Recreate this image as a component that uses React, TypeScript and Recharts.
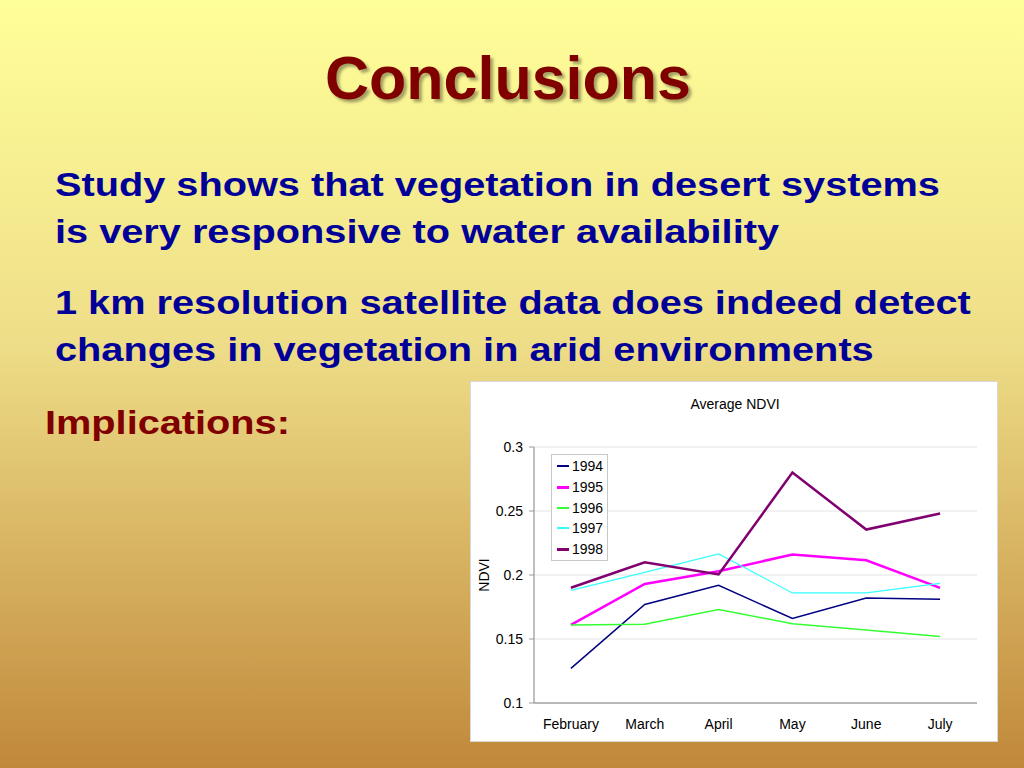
import React from 'react'
import { LineChart, Line, XAxis, YAxis, CartesianGrid, Legend } from 'recharts'

const months = ['February', 'March', 'April', 'May', 'June', 'July']
const ndvi1994 = [0.127, 0.177, 0.192, 0.166, 0.182, 0.181]
const ndvi1995 = [0.161, 0.193, 0.203, 0.216, 0.2115, 0.19]
const ndvi1996 = [0.161, 0.1615, 0.173, 0.162, 0.157, 0.152]
const ndvi1997 = [0.188, 0.202, 0.2165, 0.186, 0.186, 0.1935]
const ndvi1998 = [0.19, 0.21, 0.2005, 0.28, 0.2355, 0.248]
const yTicks = [0.1, 0.15, 0.2, 0.25, 0.3]
const edgeTicks = [0, 1, 2, 3, 4, 5, 6]

const series = [
  { key: 'y1994', name: '1994', values: ndvi1994, color: '#000080', width: 1.5 },
  { key: 'y1995', name: '1995', values: ndvi1995, color: '#ff00ff', width: 2.5 },
  { key: 'y1996', name: '1996', values: ndvi1996, color: '#33ff33', width: 1.5 },
  { key: 'y1997', name: '1997', values: ndvi1997, color: '#33ffff', width: 1.2 },
  { key: 'y1998', name: '1998', values: ndvi1998, color: '#800070', width: 2.5 },
]

const data = months.map((m, i) => {
  const row: Record<string, string | number> = { month: m }
  series.forEach(s => { row[s.key] = s.values[i] })
  return row
})

const font = '"Liberation Sans", Arial, sans-serif'

function LegendBox() {
  return (
    <div style={{ border: '1px solid #c8c8c8', background: '#fff', padding: '1px 4px 1px 5px', fontFamily: font, fontSize: 14, color: '#000' }}>
      {series.map(s => (
        <div key={s.key} style={{ display: 'flex', alignItems: 'center', height: 20.7 }}>
          <div style={{ width: 12, height: Math.max(2, Math.round(s.width)), background: s.color, marginRight: 3 }} />
          <span>{s.name}</span>
        </div>
      ))}
    </div>
  )
}

export default function App() {
  const body: React.CSSProperties = { position: 'absolute', left: 55, fontFamily: font, fontWeight: 700, fontSize: 34, lineHeight: '47px', color: '#000099', whiteSpace: 'nowrap', transform: 'scaleX(1.168)', transformOrigin: 'left top' }
  return (
    <div style={{ position: 'fixed', left: 0, top: 0, width: 1024, height: 768, overflow: 'hidden', background: 'linear-gradient(to bottom, #ffff99 0%, #eedd88 45%, #c0883a 100%)' }}>
      <div style={{ position: 'absolute', left: 0, top: 43, width: 1016, textAlign: 'center', fontFamily: font, fontWeight: 700, fontSize: 61, lineHeight: '70px', color: '#800000', textShadow: '3px 3px 3px rgba(0,0,0,0.35)' }}>
        Conclusions
      </div>
      <div style={{ ...body, top: 161 }}>
        Study shows that vegetation in desert systems<br />is very responsive to water availability
      </div>
      <div style={{ ...body, top: 279 }}>
        1 km resolution satellite data does indeed detect<br />changes in vegetation in arid environments
      </div>
      <div style={{ ...body, left: 45, top: 399, color: '#800000' }}>Implications:</div>

      <div style={{ position: 'absolute', left: 470, top: 381, width: 528, height: 361, background: '#fff', boxSizing: 'border-box', border: '1px solid #d8d8d8' }}>
        <div style={{ position: 'absolute', left: 0, top: 14, width: 528, textAlign: 'center', fontFamily: font, fontSize: 14 }}>Average NDVI</div>
        <LineChart width={528} height={361} data={data} margin={{ top: 66, right: 21, bottom: 9, left: 8 }} style={{ fontFamily: font, position: 'absolute', left: -1, top: -1 }}>
          <CartesianGrid vertical={false} stroke="#e4e4e4" />
          <XAxis xAxisId="edges" type="number" domain={[0, 6]} ticks={edgeTicks} tickFormatter={() => ''} axisLine={false} tickLine={{ stroke: '#999' }} tickSize={5} height={0} orientation="bottom" />
          <XAxis dataKey="month" scale="band" tickLine={false} axisLine={{ stroke: '#808080' }} tick={{ fontSize: 14, fill: '#000' }} tickMargin={10} height={30} interval={0} />
          <XAxis xAxisId="top" orientation="top" height={0} tick={false} tickLine={false} axisLine={{ stroke: '#808080' }} dataKey="month" />
          <YAxis domain={[0.1, 0.3]} ticks={yTicks} width={56} tickSize={5} tickMargin={6} tickLine={{ stroke: '#999' }} axisLine={{ stroke: '#808080' }} tick={{ fontSize: 14, fill: '#000' }} tickFormatter={(v: number) => String(v)} label={{ value: 'NDVI', angle: -90, position: 'insideLeft', offset: 6, style: { textAnchor: 'middle', fontSize: 14, fill: '#000' } }} />
          <YAxis yAxisId="right" orientation="right" width={0} tick={false} tickLine={false} axisLine={{ stroke: '#808080' }} />
          <Legend layout="vertical" verticalAlign="middle" align="center" content={() => <LegendBox />} wrapperStyle={{ left: 81, top: 73, width: 'auto', height: 'auto' }} />
          {series.map(s => (
            <Line key={s.key} type="linear" dataKey={s.key} name={s.name} stroke={s.color} strokeWidth={s.width} dot={false} isAnimationActive={false} />
          ))}
        </LineChart>
      </div>
    </div>
  )
}
